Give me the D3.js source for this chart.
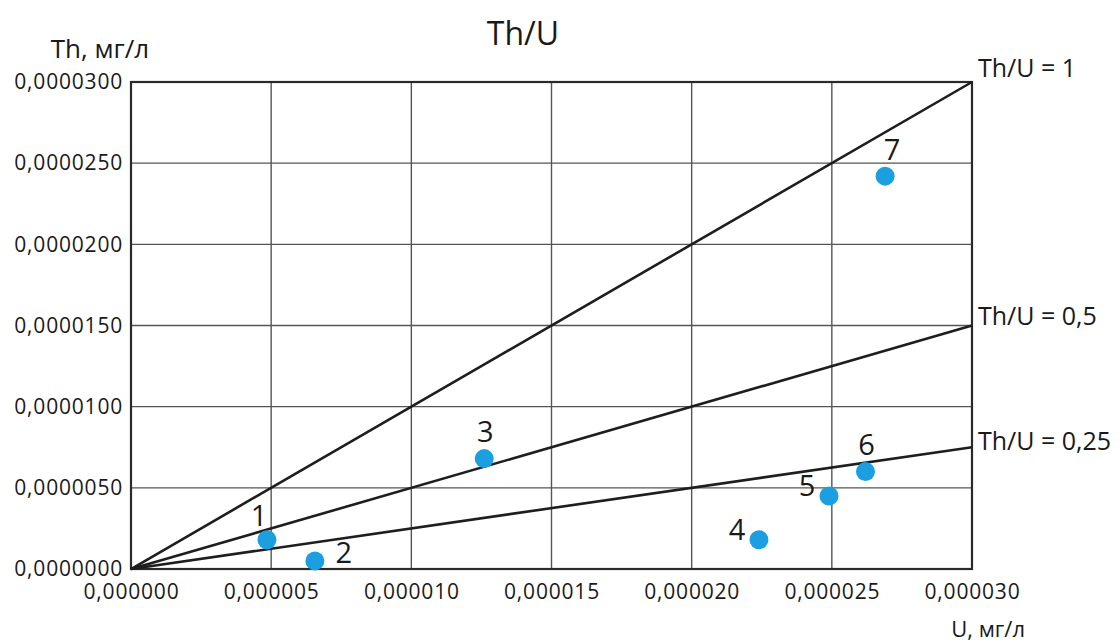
<!DOCTYPE html>
<html>
<head>
<meta charset="utf-8">
<script src="https://cdn.jsdelivr.net/npm/d3@7"></script>
<style>
  body { margin: 0; background: #fff; }
  svg text { font-family: "Open Sans", "Noto Sans", sans-serif; fill: #1a1a1a; }
</style>
</head>
<body>
<svg id="chart"></svg>
<script>
// sample points (U, Th in mg/l)
const pointIds = ["1", "2", "3", "4", "5", "6", "7"];
const uValues = [0.00000485, 0.00000656, 0.0000126, 0.0000224, 0.0000249, 0.0000262, 0.0000269];
const thValues = [0.0000018, 0.0000005, 0.0000068, 0.0000018, 0.0000045, 0.0000060, 0.0000242];
// where each number sits relative to its point
const labelSides = ["tl", "r", "t", "l", "l", "t", "tr"];

const ratios = [1, 0.5, 0.25];
const ratioLabels = ["Th/U = 1", "Th/U = 0,5", "Th/U = 0,25"];

const xTicks = [0, 0.000005, 0.00001, 0.000015, 0.00002, 0.000025, 0.00003];
const yTicks = [0, 0.000005, 0.00001, 0.000015, 0.00002, 0.000025, 0.00003];

const width = 1120, height = 644;
const margin = { top: 82, right: 148, bottom: 75, left: 131 };
const w = width - margin.left - margin.right;
const h = height - margin.top - margin.bottom;

const svg = d3.select("#chart").attr("width", width).attr("height", height);
const g = svg.append("g").attr("transform", `translate(${margin.left},${margin.top})`);

const x = d3.scaleLinear().domain([0, 0.00003]).range([0, w]);
const y = d3.scaleLinear().domain([0, 0.00003]).range([h, 0]);

const fmtX = d => d3.format(".6f")(d).replace(".", ",");
const fmtY = d => d3.format(".7f")(d).replace(".", ",");

// grid
g.append("g").selectAll("line").data(xTicks).join("line")
    .attr("x1", d => x(d)).attr("x2", d => x(d))
    .attr("y1", 0).attr("y2", h)
    .attr("stroke", "#555").attr("stroke-width", 1.4);
g.append("g").selectAll("line").data(yTicks).join("line")
    .attr("x1", 0).attr("x2", w)
    .attr("y1", d => y(d)).attr("y2", d => y(d))
    .attr("stroke", "#555").attr("stroke-width", 1.4);

// frame
g.append("rect").attr("width", w).attr("height", h)
    .attr("fill", "none").attr("stroke", "#2a2a2a").attr("stroke-width", 2.2);

// axes (labels only)
const xAxis = g.append("g").attr("transform", `translate(0,${h})`)
    .call(d3.axisBottom(x).tickValues(xTicks).tickFormat(fmtX).tickSize(0).tickPadding(15));
xAxis.select(".domain").remove();
xAxis.selectAll(".tick text").style("font-size", "21px").style("letter-spacing", "0.8px").style("fill", "#1a1a1a");

const yAxis = g.append("g")
    .call(d3.axisLeft(y).tickValues(yTicks).tickFormat(fmtY).tickSize(0).tickPadding(8));
yAxis.select(".domain").remove();
yAxis.selectAll(".tick text").style("font-size", "21px").style("letter-spacing", "0.8px").style("fill", "#1a1a1a");

// ratio lines
g.append("g").selectAll("line").data(ratios).join("line")
    .attr("x1", x(0)).attr("y1", y(0))
    .attr("x2", x(0.00003)).attr("y2", r => y(0.00003 * r))
    .attr("stroke", "#1e1e1e").attr("stroke-width", 2.6);

const ratioDy = [-5, -1, 3];
g.append("g").selectAll("text").data(ratios).join("text")
    .attr("x", x(0.00003) + 6)
    .attr("y", (r, i) => y(0.00003 * r) + ratioDy[i])
    .style("font-size", "25px")
    .text((r, i) => ratioLabels[i]);

// points
const pts = pointIds.map((id, i) => ({ id, u: uValues[i], th: thValues[i], side: labelSides[i] }));
g.append("g").selectAll("circle").data(pts).join("circle")
    .attr("cx", d => x(d.u)).attr("cy", d => y(d.th)).attr("r", 9.5)
    .attr("fill", "#1b9fe0");

const offs = { tl: [-8, -14], r: [29, 2], t: [1, -17], l: [-22, 0], tr: [7, -16] };
g.append("g").selectAll("text").data(pts).join("text")
    .attr("x", d => x(d.u) + offs[d.side][0])
    .attr("y", d => y(d.th) + offs[d.side][1])
    .attr("text-anchor", "middle")
    .style("font-size", "29px")
    .text(d => d.id);

// titles
svg.append("text").attr("x", 523).attr("y", 45).attr("text-anchor", "middle")
    .style("font-size", "32px").text("Th/U");
svg.append("text").attr("x", 100).attr("y", 58).attr("text-anchor", "middle")
    .style("font-size", "26px").text("Th, мг/л");
svg.append("text").attr("x", 1025).attr("y", 637).attr("text-anchor", "end")
    .style("font-size", "22px").text("U, мг/л");
</script>
</body>
</html>
